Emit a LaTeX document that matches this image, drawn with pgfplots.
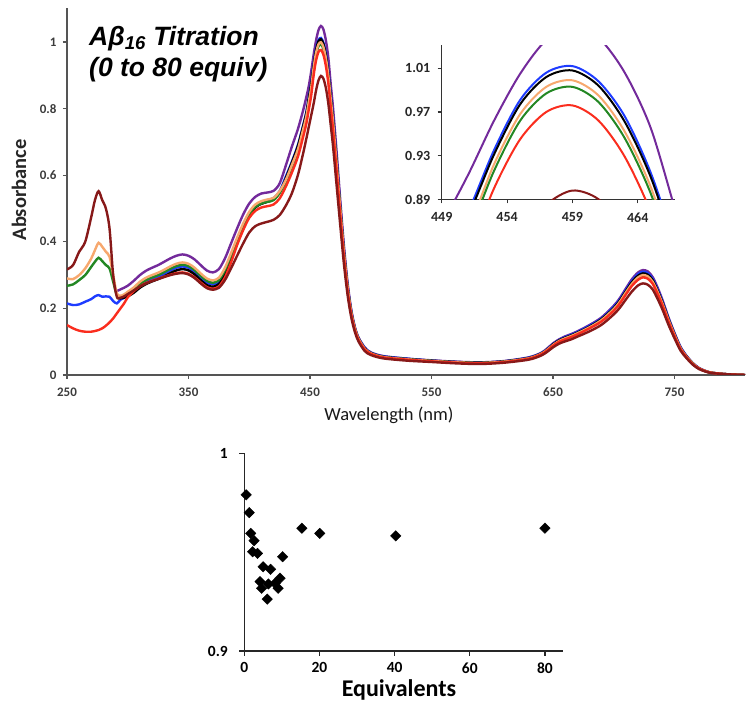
\documentclass[border=0pt]{standalone}
\usepackage{fontspec}
\setmainfont{Carlito}
\newfontfamily\arialfont{Liberation Sans}
\usepackage{pgfplots}
\usepackage{pgfplotstable}
\pgfplotsset{compat=1.18}
\definecolor{cpurple}{RGB}{115,42,155}
\definecolor{cblue}{RGB}{30,60,255}
\definecolor{cpeach}{RGB}{247,168,110}
\definecolor{cgreen}{RGB}{35,135,35}
\definecolor{cred}{RGB}{250,45,30}
\definecolor{cmaroon}{RGB}{135,25,25}
\definecolor{axisgray}{RGB}{85,85,85}
\definecolor{tickgray}{RGB}{60,60,60}

\pgfplotstableread{
wl U B K P G R M
250 nan 0.215 nan 0.290 0.268 0.150 0.317
255 nan 0.210 nan 0.288 0.272 0.140 0.330
260 nan 0.212 nan 0.300 0.285 0.133 0.370
265 nan 0.220 nan 0.320 0.300 0.130 0.400
270 nan 0.228 nan 0.350 0.325 0.130 0.475
273 nan 0.236 nan 0.375 0.340 0.132 0.525
276 nan 0.240 nan 0.397 0.352 0.135 0.552
279 nan 0.235 nan 0.385 0.342 0.140 0.525
282 nan 0.236 nan 0.370 0.330 0.148 0.500
285 nan 0.235 nan 0.355 0.320 0.158 0.440
288 nan 0.222 nan 0.300 0.280 0.170 0.300
291 0.252 0.215 0.232 0.245 0.240 0.185 0.235
294 0.257 0.226 0.230 0.238 0.234 0.200 0.232
297 0.262 0.232 0.232 0.242 0.238 0.215 0.236
300 0.268 0.240 0.236 0.250 0.245 0.233 0.243
305 0.283 0.252 0.247 0.263 0.257 0.252 0.254
310 0.300 0.268 0.262 0.280 0.273 0.266 0.266
315 0.313 0.280 0.273 0.292 0.285 0.276 0.275
320 0.322 0.288 0.281 0.300 0.293 0.283 0.282
325 0.330 0.295 0.288 0.307 0.300 0.289 0.288
330 0.340 0.304 0.296 0.316 0.309 0.295 0.294
335 0.350 0.314 0.306 0.326 0.319 0.301 0.300
340 0.358 0.322 0.314 0.334 0.327 0.306 0.304
345 0.362 0.326 0.318 0.338 0.331 0.308 0.306
350 0.358 0.322 0.314 0.334 0.327 0.304 0.302
355 0.347 0.310 0.302 0.322 0.315 0.293 0.291
360 0.330 0.293 0.285 0.305 0.298 0.278 0.275
365 0.314 0.278 0.270 0.290 0.283 0.264 0.261
370 0.308 0.272 0.265 0.284 0.277 0.259 0.256
375 0.318 0.280 0.273 0.292 0.285 0.266 0.262
380 0.350 0.310 0.303 0.322 0.315 0.293 0.285
385 0.395 0.355 0.348 0.366 0.359 0.338 0.320
390 0.440 0.402 0.396 0.412 0.405 0.390 0.358
395 0.482 0.447 0.441 0.455 0.448 0.435 0.395
400 0.515 0.484 0.479 0.490 0.483 0.472 0.428
405 0.535 0.508 0.503 0.512 0.505 0.493 0.447
410 0.545 0.519 0.514 0.522 0.515 0.503 0.455
415 0.548 0.525 0.520 0.527 0.520 0.507 0.460
420 0.553 0.531 0.527 0.532 0.525 0.512 0.466
425 0.575 0.552 0.548 0.552 0.546 0.530 0.480
430 0.628 0.595 0.590 0.585 0.580 0.565 0.508
435 0.685 0.640 0.637 0.630 0.625 0.607 0.545
440 0.738 0.690 0.687 0.677 0.672 0.655 0.600
444 0.790 0.745 0.742 0.732 0.727 0.710 0.660
447 0.835 0.790 0.787 0.777 0.772 0.755 0.710
449 0.868 0.835 0.831 0.820 0.815 0.797 0.745
451 0.912 0.878 0.874 0.862 0.857 0.840 0.780
453 0.962 0.935 0.931 0.922 0.916 0.900 0.815
455 1.005 0.981 0.977 0.968 0.962 0.945 0.855
457 1.036 1.006 1.002 0.993 0.987 0.970 0.885
459 1.048 1.012 1.008 0.999 0.993 0.976 0.898
461 1.038 0.998 0.994 0.985 0.979 0.962 0.890
463 1.006 0.966 0.961 0.952 0.946 0.929 0.863
465 0.955 0.914 0.910 0.901 0.895 0.878 0.817
467 0.875 0.843 0.839 0.830 0.824 0.807 0.752
469 0.800 0.770 0.766 0.758 0.752 0.735 0.685
472 0.665 0.640 0.636 0.628 0.623 0.608 0.565
475 0.520 0.500 0.497 0.492 0.488 0.477 0.445
478 0.385 0.370 0.367 0.363 0.360 0.352 0.330
481 0.275 0.265 0.263 0.260 0.258 0.252 0.238
484 0.195 0.190 0.188 0.186 0.185 0.181 0.172
487 0.143 0.140 0.139 0.138 0.137 0.134 0.128
490 0.112 0.110 0.109 0.108 0.107 0.105 0.100
495 0.083 0.082 0.080 0.079 0.078 0.077 0.072
500 0.068 0.067 0.066 0.065 0.065 0.064 0.060
510 0.057 0.056 0.055 0.054 0.054 0.053 0.050
530 0.049 0.049 0.048 0.047 0.047 0.046 0.043
550 0.044 0.043 0.043 0.042 0.042 0.041 0.039
570 0.040 0.039 0.039 0.038 0.038 0.037 0.035
590 0.038 0.037 0.037 0.036 0.036 0.035 0.033
610 0.042 0.041 0.041 0.040 0.040 0.039 0.037
630 0.053 0.052 0.051 0.050 0.050 0.049 0.046
640 0.066 0.065 0.064 0.063 0.063 0.062 0.058
645 0.079 0.077 0.076 0.075 0.074 0.073 0.069
650 0.095 0.093 0.092 0.090 0.089 0.088 0.083
655 0.107 0.105 0.104 0.102 0.101 0.100 0.094
660 0.116 0.114 0.112 0.110 0.109 0.107 0.101
665 0.123 0.121 0.119 0.117 0.116 0.114 0.107
670 0.131 0.129 0.127 0.125 0.124 0.122 0.115
680 0.150 0.148 0.145 0.143 0.142 0.140 0.131
690 0.173 0.170 0.168 0.165 0.164 0.161 0.151
700 0.208 0.205 0.201 0.198 0.197 0.193 0.182
705 0.231 0.227 0.224 0.220 0.218 0.215 0.202
710 0.260 0.256 0.252 0.248 0.246 0.242 0.227
715 0.288 0.283 0.279 0.274 0.272 0.268 0.251
720 0.308 0.303 0.298 0.293 0.291 0.286 0.269
724 0.315 0.310 0.305 0.300 0.298 0.293 0.275
728 0.311 0.306 0.301 0.296 0.294 0.289 0.271
732 0.294 0.289 0.285 0.280 0.278 0.274 0.257
736 0.263 0.258 0.254 0.250 0.248 0.244 0.229
740 0.226 0.222 0.219 0.215 0.213 0.210 0.197
745 0.173 0.170 0.168 0.165 0.164 0.161 0.151
750 0.126 0.124 0.122 0.120 0.119 0.117 0.110
755 0.084 0.083 0.081 0.080 0.079 0.078 0.073
760 0.057 0.056 0.055 0.054 0.054 0.053 0.050
765 0.036 0.035 0.035 0.034 0.034 0.033 0.031
770 0.021 0.021 0.020 0.020 0.020 0.020 0.018
775 0.013 0.012 0.012 0.012 0.012 0.012 0.011
780 0.007 0.007 0.007 0.007 0.007 0.007 0.006
790 0.003 0.003 0.003 0.003 0.003 0.003 0.003
800 0.001 0.001 0.001 0.001 0.001 0.001 0.001
808 0.000 0.000 0.000 0.000 0.000 0.000 0.000
}\spectra

\begin{document}
\begin{tikzpicture}[x=1pt,y=1pt]
\path (0,0) rectangle (746,708);

% ---------- main spectra ----------
\begin{axis}[
  at={(67pt,333pt)}, anchor=south west,
  scale only axis, width=678pt, height=367pt,
  xmin=250, xmax=808, ymin=0, ymax=1.102,
  axis x line*=bottom, axis y line*=left,
  axis line style={-, line width=1.3pt, color=axisgray},
  xtick={250,350,450,550,650,750},
  ytick={0,0.2,0.4,0.6,0.8,1},
  yticklabels={0,0.2,0.4,0.6,0.8,1},
  xticklabels={250,350,450,550,650,750},
  tick align=outside, major tick length=4pt,
  tick style={line width=1.1pt, color=axisgray},
  ticklabel style={font=\fontsize{13}{14}\selectfont\bfseries, text=tickgray},
  xticklabel style={yshift=-5pt},
  yticklabel style={xshift=-3pt},
  /pgf/number format/assume math mode=true,
  unbounded coords=jump,
  every axis plot/.append style={no marks, smooth, line width=2.4pt},
]
\addplot[cpurple] table[x=wl,y=U]{\spectra};
\addplot[cblue] table[x=wl,y=B]{\spectra};
\addplot[black] table[x=wl,y=K]{\spectra};
\addplot[cgreen] table[x=wl,y=G]{\spectra};
\addplot[cpeach] table[x=wl,y=P]{\spectra};
\addplot[cred] table[x=wl,y=R]{\spectra};
\addplot[cmaroon] table[x=wl,y=M]{\spectra};
\end{axis}

% ---------- inset ----------
\begin{axis}[
  at={(441.7pt,508.7pt)}, anchor=south west,
  scale only axis, width=233.3pt, height=153.9pt,
  xmin=449, xmax=466.85, ymin=0.89, ymax=1.031,
  axis x line*=bottom, axis y line*=left,
  axis line style={-, line width=1.2pt, color=black!80},
  xtick={449,454,459,464}, xticklabels={449,454,459,464},
  ytick={0.89,0.93,0.97,1.01}, yticklabels={0.89,0.93,0.97,1.01},
  tick align=outside, major tick length=4pt,
  tick style={line width=1.1pt, color=black!80},
  ticklabel style={font=\fontsize{14}{15}\selectfont\bfseries, text=black!85},
  xticklabel style={yshift=-6pt},
  yticklabel style={xshift=-4pt},
  /pgf/number format/assume math mode=true,
  unbounded coords=jump,
  every axis plot/.append style={no marks, smooth, line width=2pt},
]
\addplot[cpurple] table[x=wl,y=U]{\spectra};
\addplot[cblue] table[x=wl,y=B]{\spectra};
\addplot[black] table[x=wl,y=K]{\spectra};
\addplot[cpeach] table[x=wl,y=P]{\spectra};
\addplot[cgreen] table[x=wl,y=G]{\spectra};
\addplot[cred] table[x=wl,y=R]{\spectra};
\addplot[cmaroon] table[x=wl,y=M]{\spectra};
\end{axis}

% ---------- equivalents ----------
\begin{axis}[
  at={(244.3pt,57pt)}, anchor=south west,
  scale only axis, width=318.7pt, height=197.7pt,
  xmin=0, xmax=84.8, ymin=0.9, ymax=1,
  axis x line*=bottom, axis y line*=left,
  axis line style={-, line width=1.4pt, color=black!85},
  xtick={0,20,40,60,80}, xticklabels={0,20,40,60,80},
  ytick={0.9,1}, yticklabels={0.9,1},
  tick align=outside, major tick length=5pt,
  tick style={line width=1.2pt, color=black!85},
  ticklabel style={font=\fontsize{15.5}{16}\selectfont\bfseries, text=black},
  xticklabel style={yshift=-3pt},
  yticklabel style={xshift=-8pt},
  /pgf/number format/assume math mode=true,
  clip=false,
]
\addplot[only marks, mark=square*, mark size=3.7pt, mark options={rotate=45, fill=black, draw=black}] coordinates {
(0.5,0.979) (1.3,0.970) (1.7,0.9595) (2.6,0.9558) (2.2,0.9502) (3.5,0.9494)
(5,0.9426) (7,0.9413) (4.2,0.9351) (4.6,0.9317) (6.4,0.9339) (8.2,0.9342)
(9.5,0.9368) (9,0.9317) (6.1,0.9262) (10.2,0.9477) (15.3,0.9621)
(20.1,0.9595) (40.3,0.9582) (80,0.9621)};
\end{axis}

% ---------- labels ----------
\node[rotate=90, font=\fontsize{20.5}{22}\selectfont\bfseries, text=black!85] at (19,190+328) {Absorbance};
\node[font=\fontsize{18.5}{20}\selectfont, text=black!90] at (389,293) {Wavelength (nm)};
\node[font=\fontsize{24}{26}\selectfont\bfseries, text=black] at (399,18) {Equivalents};
\node[anchor=north west, align=left, font=\arialfont\fontsize{26.5}{31}\selectfont\bfseries\itshape, inner sep=0pt] at (89,682)
  {Aβ\textsubscript{16} Titration\\(0 to 80 equiv)};
\end{tikzpicture}
\end{document}
